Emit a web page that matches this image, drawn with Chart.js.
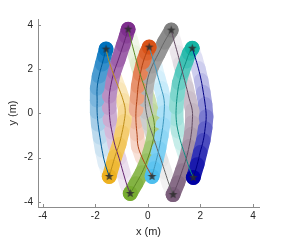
<!DOCTYPE html>
<html><head><meta charset="utf-8">
<script src="https://cdn.jsdelivr.net/npm/chart.js@4.4.1/dist/chart.umd.min.js"></script>
<style>html,body{margin:0;padding:0;background:#fff;}#wrap{width:286px;height:245px;}</style>
</head><body><div id="wrap"><canvas id="c" width="286" height="245"></canvas></div>
<script>
// ---------- data (metres) ----------
const xTicks = [-4, -2, 0, 2, 4];
const yTicks = [-4, -2, 0, 2, 4];
const agentNames = ['blue','yellow','purple','green','orange','lightblue','grey','mauve','teal','navy'];
const agentColors = ['#0072BD','#EDB120','#7E2F8E','#77AC30','#D95319','#4DBEEE','#808080','#7B5E7B','#14B4A4','#0000A4'];
const pathColors  = ['#005B97','#BE8E1A','#652572','#5F8A26','#AE4214','#3E98BE','#666666','#624B62','#109083','#000083'];

const blueX = [-1.47,-1.63,-1.74,-1.82,-1.89,-1.93,-1.93,-1.93,-1.86,-1.74,-1.66,-1.59];
const blueY = [-2.85,-2.26,-1.67,-1.09,-0.50,0.05,0.59,1.13,1.67,2.22,2.58,2.90];
const yellowX = [-1.59,-1.51,-1.40,-1.25,-1.09,-0.94,-0.86,-0.90,-0.98,-1.09,-1.25,-1.36,-1.47];
const yellowY = [2.90,2.49,2.08,1.58,1.09,0.59,0.14,-0.36,-0.86,-1.40,-1.95,-2.40,-2.85];
const purpleX = [-0.67,-0.79,-0.94,-1.09,-1.25,-1.36,-1.44,-1.47,-1.47,-1.40,-1.29,-1.13,-0.94,-0.83,-0.75];
const purpleY = [-3.62,-3.26,-2.67,-2.04,-1.45,-0.86,-0.32,0.23,0.77,1.31,1.86,2.40,3.08,3.48,3.80];
const greenX = [-0.75,-0.64,-0.52,-0.41,-0.29,-0.14,0.01,0.13,0.24,0.24,0.13,-0.03,-0.22,-0.45,-0.67];
const greenY = [3.80,3.30,2.76,2.26,1.76,1.22,0.68,0.14,-0.41,-0.95,-1.54,-2.13,-2.67,-3.17,-3.62];
const orangeX = [0.16,-0.03,-0.22,-0.37,-0.41,-0.45,-0.45,-0.41,-0.37,-0.29,-0.18,-0.06,0.05];
const orangeY = [-2.85,-2.44,-1.99,-1.49,-0.95,-0.41,0.14,0.68,1.22,1.76,2.31,2.71,2.99];
const lightblueX = [0.05,0.16,0.28,0.39,0.51,0.62,0.62,0.58,0.51,0.43,0.32,0.24,0.16];
const lightblueY = [2.99,2.58,2.13,1.63,1.13,0.59,0.05,-0.50,-1.04,-1.58,-2.13,-2.49,-2.85];
const greyX = [0.96,0.81,0.66,0.51,0.35,0.20,0.05,-0.06,-0.10,-0.06,0.01,0.16,0.39,0.62,0.89];
const greyY = [-3.67,-3.21,-2.67,-2.13,-1.58,-1.04,-0.50,0.05,0.59,1.13,1.63,2.13,2.67,3.21,3.76];
const mauveX = [0.89,1.00,1.12,1.23,1.34,1.46,1.57,1.69,1.69,1.65,1.57,1.46,1.31,1.15,0.96];
const mauveY = [3.76,3.26,2.76,2.26,1.76,1.22,0.68,0.14,-0.41,-0.95,-1.49,-2.04,-2.58,-3.12,-3.67];
const tealX = [1.73,1.57,1.42,1.27,1.15,1.08,1.08,1.12,1.19,1.31,1.46,1.57,1.69];
const tealY = [-2.90,-2.44,-1.90,-1.36,-0.81,-0.27,0.27,0.81,1.36,1.86,2.35,2.71,2.94];
const navyX = [1.69,1.80,1.92,2.03,2.11,2.18,2.22,2.18,2.11,1.99,1.88,1.73];
const navyY = [2.94,2.53,2.04,1.49,0.95,0.41,-0.14,-0.68,-1.22,-1.76,-2.31,-2.90];

const pathsX = [blueX, yellowX, purpleX, greenX, orangeX, lightblueX, greyX, mauveX, tealX, navyX];
const pathsY = [blueY, yellowY, purpleY, greenY, orangeY, lightblueY, greyY, mauveY, tealY, navyY];

// ---------- styling helpers ----------
function hexRgb(h){h=h.replace('#','');return [parseInt(h.slice(0,2),16),parseInt(h.slice(2,4),16),parseInt(h.slice(4,6),16)];}
function fade(hex, s){const c=hexRgb(hex);const m=c.map(v=>Math.round(255+(v-255)*s));return 'rgb('+m.join(',')+')';}
function pts(xs, ys){return xs.map((x,i)=>({x:x, y:ys[i]}));}

const starImg = document.createElement('canvas');
starImg.width = 11; starImg.height = 11;
(function(){const g=starImg.getContext('2d');g.fillStyle='rgba(45,45,45,0.85)';g.beginPath();
 for(let k=0;k<10;k++){const r=k%2?1.9:4.6;const a=-Math.PI/2+k*Math.PI/5;const px=5.5+r*Math.cos(a), py=5.5+r*Math.sin(a);k?g.lineTo(px,py):g.moveTo(px,py);}
 g.closePath();g.fill();})();

const datasets = [];
// fading trails, drawn in time order
pathsX.forEach((xs, a) => {
  const ys = pathsY[a], n = xs.length;
  for (let i = 0; i < n - 1; i++) {
    const t = (i + 0.5) / (n - 1);
    datasets.push({
      data: [{x: xs[i], y: ys[i]}, {x: xs[i+1], y: ys[i+1]}],
      showLine: true, borderColor: fade(agentColors[a], 0.05 + 0.9 * Math.pow(t, 1.25)),
      borderWidth: 14.5, borderCapStyle: 'round', borderJoinStyle: 'round',
      pointRadius: 0, tension: 0, order: 1000 - Math.round(t * 500) - a * 0.01
    });
  }
});
// robots at final positions
datasets.push({
  data: pathsX.map((xs, a) => ({x: xs[xs.length-1], y: pathsY[a][pathsY[a].length-1]})),
  backgroundColor: agentColors, borderWidth: 0, pointRadius: 7.5, order: 20
});
// full paths (thin lines)
pathsX.forEach((xs, a) => {
  datasets.push({
    data: pts(xs, pathsY[a]), showLine: true, borderColor: pathColors[a], borderWidth: 1,
    pointRadius: 0, tension: 0.4, order: 10
  });
});
// goal stars
datasets.push({
  data: pathsX.map((xs, a) => ({x: xs[xs.length-1], y: pathsY[a][pathsY[a].length-1]})),
  pointStyle: starImg, pointRadius: 5, order: 1
});

const axisCol = '#8c8c8c', textCol = '#262626';
const tickFont = {family: 'Liberation Sans, Arial, sans-serif', size: 10};
const titleFont = {family: 'Liberation Sans, Arial, sans-serif', size: 11};

const innerTicks = {
  id: 'innerTicks',
  afterDraw(chart) {
    const {ctx, chartArea: ca, scales: {x, y}} = chart;
    ctx.save(); ctx.strokeStyle = axisCol; ctx.lineWidth = 1; ctx.beginPath();
    xTicks.forEach(v => { const p = Math.round(x.getPixelForValue(v)) + 0.5; ctx.moveTo(p, ca.bottom); ctx.lineTo(p, ca.bottom - 3); });
    yTicks.forEach(v => { const p = Math.round(y.getPixelForValue(v)) + 0.5; ctx.moveTo(ca.left, p); ctx.lineTo(ca.left + 3, p); });
    ctx.stroke(); ctx.restore();
  }
};

new Chart(document.getElementById('c'), {
  type: 'scatter',
  data: {datasets},
  options: {
    responsive: false, animation: false, devicePixelRatio: 1,
    layout: {padding: {left: 0, right: 27, top: 19, bottom: 0}},
    plugins: {legend: {display: false}, tooltip: {enabled: false}},
    scales: {
      x: {
        type: 'linear', min: -4.18, max: 4.23,
        afterBuildTicks: s => { s.ticks = xTicks.map(v => ({value: v})); },
        afterFit: s => { s.height = 38; },
        ticks: {font: tickFont, color: textCol, padding: 3, autoSkip: false, maxRotation: 0, callback: v => String(v)},
        grid: {drawOnChartArea: false, drawTicks: false},
        border: {color: axisCol, width: 1},
        title: {display: true, text: 'x (m)', font: titleFont, color: textCol, padding: {top: 0, bottom: 6}}
      },
      y: {
        type: 'linear', min: -4.23, max: 4.26,
        afterBuildTicks: s => { s.ticks = yTicks.map(v => ({value: v})); },
        afterFit: s => { s.width = 38; },
        ticks: {font: tickFont, color: textCol, padding: 5, autoSkip: false, callback: v => String(v)},
        grid: {drawOnChartArea: false, drawTicks: false},
        border: {color: axisCol, width: 1},
        title: {display: true, text: 'y (m)', font: titleFont, color: textCol, padding: {top: 6, bottom: 0}}
      }
    }
  },
  plugins: [innerTicks]
});
</script></body></html>
